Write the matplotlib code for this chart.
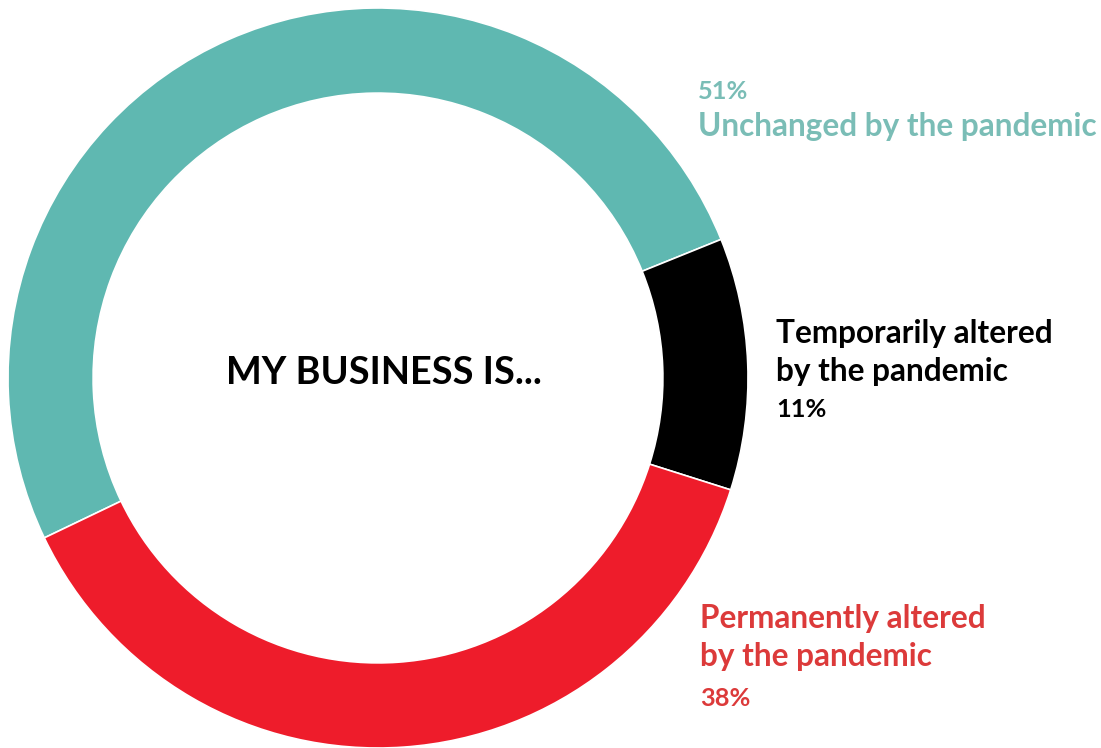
import matplotlib
matplotlib.use("Agg")
import matplotlib.pyplot as plt

labels = [["Unchanged by the pandemic"],
          ["Temporarily altered", "by the pandemic"],
          ["Permanently altered", "by the pandemic"]]
shares = [51, 11, 38]
wedge_colors = ["#5FB8B1", "#000000", "#EE1C2B"]
text_colors = ["#7ABDB6", "#000000", "#DC3A3A"]

W, H = 1101, 748
plt.rcParams["font.family"] = ["Lato", "DejaVu Sans"]

fig = plt.figure(figsize=(W / 100, H / 100), dpi=100)
# donut occupies a 740px square on the left
ax = fig.add_axes([8 / W, 0, 740 / W, 740 / H])
ax.pie(shares, colors=wedge_colors, startangle=205.6, counterclock=False,
       radius=1.0, wedgeprops=dict(width=0.23, edgecolor="white", linewidth=1.2))
ax.set_xlim(-1, 1)
ax.set_ylim(-1, 1)
ax.set_aspect("equal")
ax.axis("off")


def px(x, y):
    return x / W, 1 - y / H


def put(x, y, s, size, color):
    fig.text(*px(x, y), s, ha="left", va="baseline", fontsize=size,
             fontweight="bold", color=color)


fig.text(*px(384, 384), "MY BUSINESS IS...", ha="center", va="baseline",
         fontsize=27.3, fontweight="bold", color="black")

LBL, PCT = 22.7, 18.3

# unchanged
put(698, 99, f"{shares[0]}%", PCT, text_colors[0])
put(698, 136, labels[0][0], LBL, text_colors[0])

# temporarily
put(776, 343, labels[1][0], LBL, text_colors[1])
put(776, 381, labels[1][1], LBL, text_colors[1])
put(776, 417, f"{shares[1]}%", PCT, text_colors[1])

# permanently
put(700, 628, labels[2][0], LBL, text_colors[2])
put(700, 666, labels[2][1], LBL, text_colors[2])
put(700, 706, f"{shares[2]}%", PCT, text_colors[2])

fig.savefig("out.png", dpi=100, facecolor="white")
